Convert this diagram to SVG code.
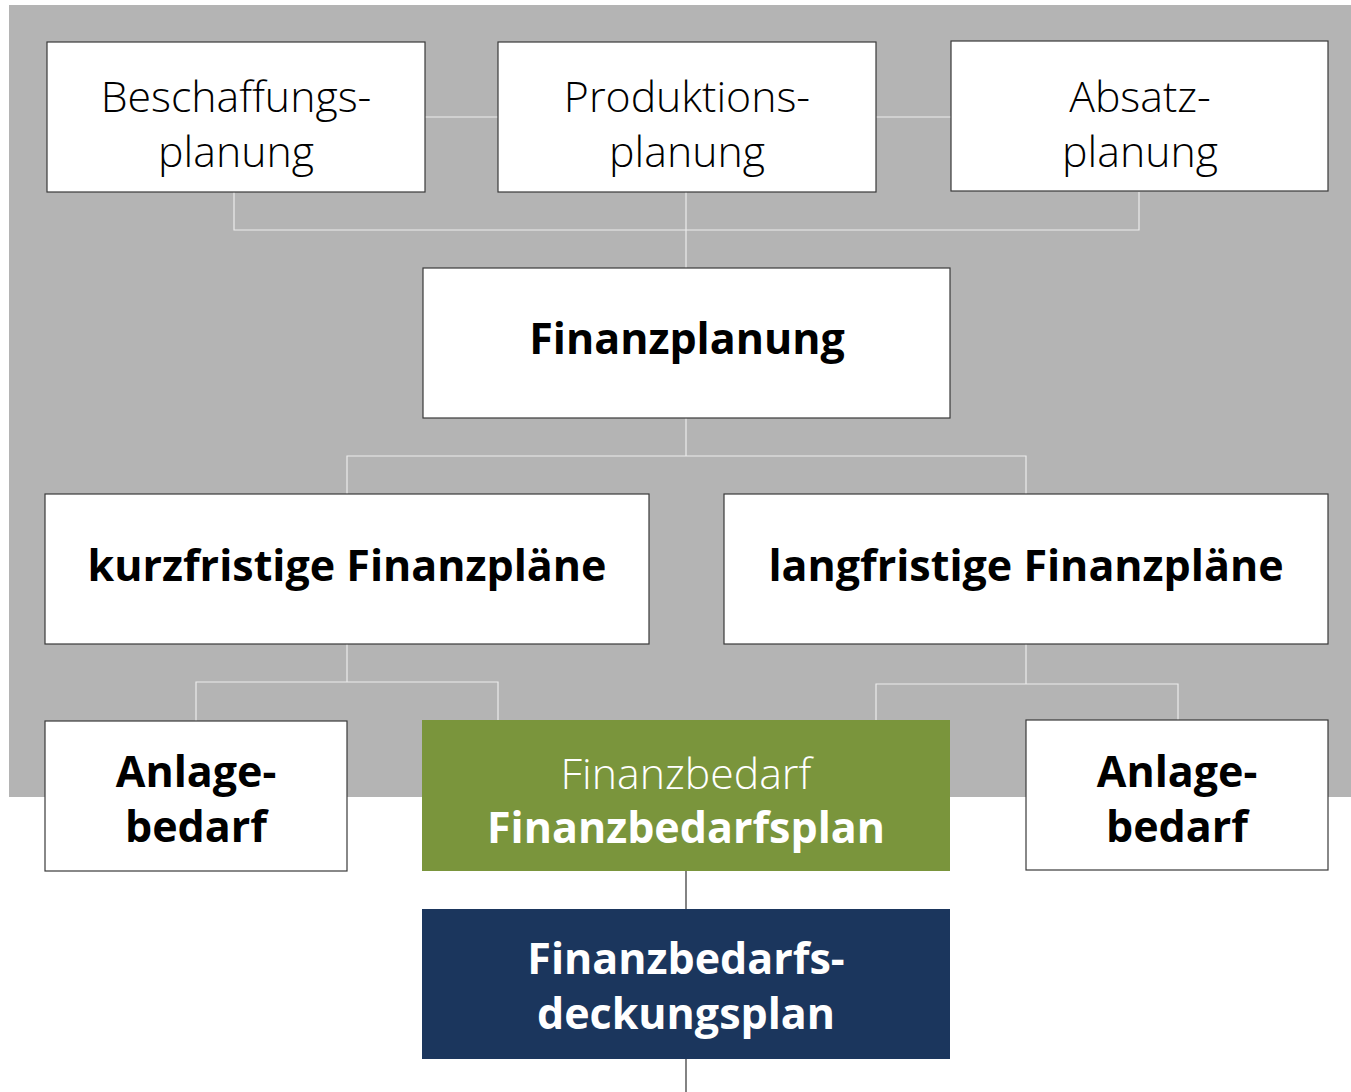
<svg xmlns="http://www.w3.org/2000/svg" width="1351" height="1092" viewBox="0 0 1351 1092">
<style>
.box{fill:#ffffff;stroke:#3a3a3a;stroke-width:1.2}
.lt{font-family:"Open Sans","Noto Sans","Liberation Sans",sans-serif;font-weight:300;font-size:42.8px;fill:#000;text-anchor:middle}
.bd{font-family:"Open Sans","Noto Sans","Liberation Sans",sans-serif;font-weight:700;font-size:43px;fill:#000;text-anchor:middle}
.con{fill:none;stroke:#ececec;stroke-width:1.2}
.dk{fill:none;stroke:#333;stroke-width:1.2}
</style>
<rect x="9" y="5" width="1342" height="792" fill="#b4b4b4"/>
<g id="connectors">
<path class="con" d="M425 117H498M876 117H951"/>
<path class="con" d="M234 192V230H1139V192M686 192V268"/>
<path class="con" d="M686 418V456M347 494V456H1026V494"/>
<path class="con" d="M347 644V682M196 721V682H498V720"/>
<path class="con" d="M1026 644V684M876 720V684H1178V720"/>
<path class="dk" d="M686 871V909M686 1059V1092"/>
</g>
<g id="beschaffung"><rect class="box" x="47" y="42" width="378" height="150"/><text class="lt" x="236" y="112">Beschaffungs-</text><text class="lt" x="236" y="167">planung</text></g>
<g id="produktion"><rect class="box" x="498" y="42" width="378" height="150"/><text class="lt" x="687" y="112">Produktions-</text><text class="lt" x="687" y="167">planung</text></g>
<g id="absatz"><rect class="box" x="951" y="41" width="377" height="150"/><text class="lt" x="1140" y="112">Absatz-</text><text class="lt" x="1140" y="167">planung</text></g>
<g id="finanzplanung"><rect class="box" x="423" y="268" width="527" height="150"/><text class="bd" x="687" y="354">Finanzplanung</text></g>
<g id="kurzfristig"><rect class="box" x="45" y="494" width="604" height="150"/><text class="bd" x="347" y="581">kurzfristige Finanzpläne</text></g>
<g id="langfristig"><rect class="box" x="724" y="494" width="604" height="150"/><text class="bd" x="1026" y="581">langfristige Finanzpläne</text></g>
<g id="anlage1"><rect class="box" x="45" y="721" width="302" height="150"/><text class="bd" x="196" y="787">Anlage-</text><text class="bd" x="196" y="842">bedarf</text></g>
<g id="finanzbedarf"><rect x="422" y="720" width="528" height="151" fill="#7a953c"/><text class="lt" x="686" y="789" style="fill:#fff">Finanzbedarf</text><text class="bd" x="686" y="843" style="fill:#fff">Finanzbedarfsplan</text></g>
<g id="anlage2"><rect class="box" x="1026" y="720" width="302" height="150"/><text class="bd" x="1177" y="787">Anlage-</text><text class="bd" x="1177" y="842">bedarf</text></g>
<g id="deckungsplan"><rect x="422" y="909" width="528" height="150" fill="#1b365d"/><text class="bd" x="686" y="974" style="fill:#fff">Finanzbedarfs-</text><text class="bd" x="686" y="1029" style="fill:#fff">deckungsplan</text></g>
</svg>
